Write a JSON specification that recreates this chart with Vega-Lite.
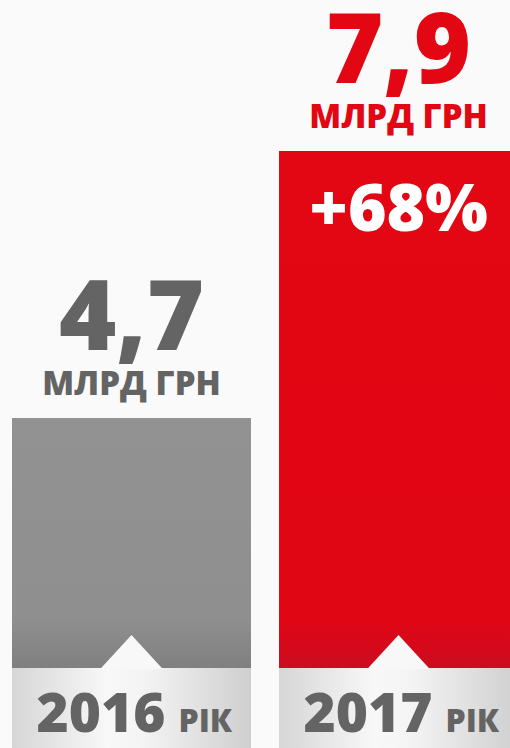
{
  "$schema": "https://vega.github.io/schema/vega-lite/v6.json",
  "width": 510,
  "height": 748,
  "autosize": "none",
  "padding": 0,
  "background": "#fafafa",
  "config": {"view": {"stroke": null}, "font": "Open Sans"},
  "data": {"values": [
    {"year": "2016", "value": 4.7, "label": "4,7", "unit": "МЛРД ГРН", "suffix": "РІК", "change": ""},
    {"year": "2017", "value": 7.9, "label": "7,9", "unit": "МЛРД ГРН", "suffix": "РІК", "change": "+68%"}
  ]},
  "encoding": {
    "x": {"field": "year", "type": "nominal", "axis": null,
      "scale": {"range": [12, 518], "paddingInner": 0.105, "paddingOuter": 0}}
  },
  "layer": [
    {
      "transform": [{"filter": "datum.year === '2016'"}],
      "mark": {"type": "bar", "color": {"gradient": "linear", "x1": 0, "y1": 0, "x2": 0, "y2": 1,
        "stops": [{"offset": 0, "color": "#929292"}, {"offset": 0.8, "color": "#8f8f8f"}, {"offset": 1, "color": "#808080"}]}},
      "encoding": {
        "y": {"field": "value", "type": "quantitative", "axis": null, "scale": {"domain": [0.745, 9.71], "zero": false, "nice": false}},
        "y2": {"datum": 1.704}
      }
    },
    {
      "transform": [{"filter": "datum.year === '2017'"}],
      "mark": {"type": "bar", "color": {"gradient": "linear", "x1": 0, "y1": 0, "x2": 0, "y2": 1,
        "stops": [{"offset": 0, "color": "#e30613"}, {"offset": 0.9, "color": "#e10614"}, {"offset": 1, "color": "#cc0c20"}]}},
      "encoding": {
        "y": {"field": "value", "type": "quantitative"},
        "y2": {"datum": 1.704}
      }
    },
    {
      "mark": {"type": "bar", "color": {"gradient": "linear", "x1": 0, "y1": 0, "x2": 1, "y2": 0,
        "stops": [{"offset": 0, "color": "#d6d6d6"}, {"offset": 0.4, "color": "#f8f8f8"}, {"offset": 0.55, "color": "#f4f4f4"}, {"offset": 1, "color": "#cfcfcf"}]}},
      "encoding": {
        "y": {"datum": 1.704},
        "y2": {"datum": 0.745}
      }
    },
    {
      "mark": {"type": "point", "filled": true, "opacity": 1, "color": "#f8f8f8", "size": 3969,
        "shape": "M-1,0.04L0,-1.048L1,0.04Z", "strokeWidth": 0},
      "encoding": {"y": {"datum": 1.704}}
    },
    {
      "mark": {"type": "text", "fontSize": 98, "fontWeight": 800, "baseline": "alphabetic", "dy": -68},
      "encoding": {
        "y": {"field": "value", "type": "quantitative"},
        "text": {"field": "label"},
        "color": {"condition": {"test": "datum.year === '2017'", "value": "#e30613"}, "value": "#646464"}
      }
    },
    {
      "mark": {"type": "text", "fontSize": 33, "fontWeight": 800, "baseline": "alphabetic", "dy": -23},
      "encoding": {
        "y": {"field": "value", "type": "quantitative"},
        "text": {"field": "unit"},
        "color": {"condition": {"test": "datum.year === '2017'", "value": "#e30613"}, "value": "#646464"}
      }
    },
    {
      "transform": [{"filter": "datum.change !== ''"}],
      "mark": {"type": "text", "fontSize": 66, "fontWeight": 800, "baseline": "alphabetic", "dy": 80, "color": "#ffffff"},
      "encoding": {
        "y": {"field": "value", "type": "quantitative"},
        "text": {"field": "change"}
      }
    },
    {
      "mark": {"type": "text", "fontSize": 55, "fontWeight": 800, "baseline": "alphabetic", "align": "right", "dx": 34, "dy": 64, "color": "#646464"},
      "encoding": {
        "y": {"datum": 1.704},
        "text": {"field": "year"}
      }
    },
    {
      "mark": {"type": "text", "fontSize": 32, "fontWeight": 800, "baseline": "alphabetic", "align": "left", "dx": 47, "dy": 64, "color": "#646464"},
      "encoding": {
        "y": {"datum": 1.704},
        "text": {"field": "suffix"}
      }
    }
  ]
}
